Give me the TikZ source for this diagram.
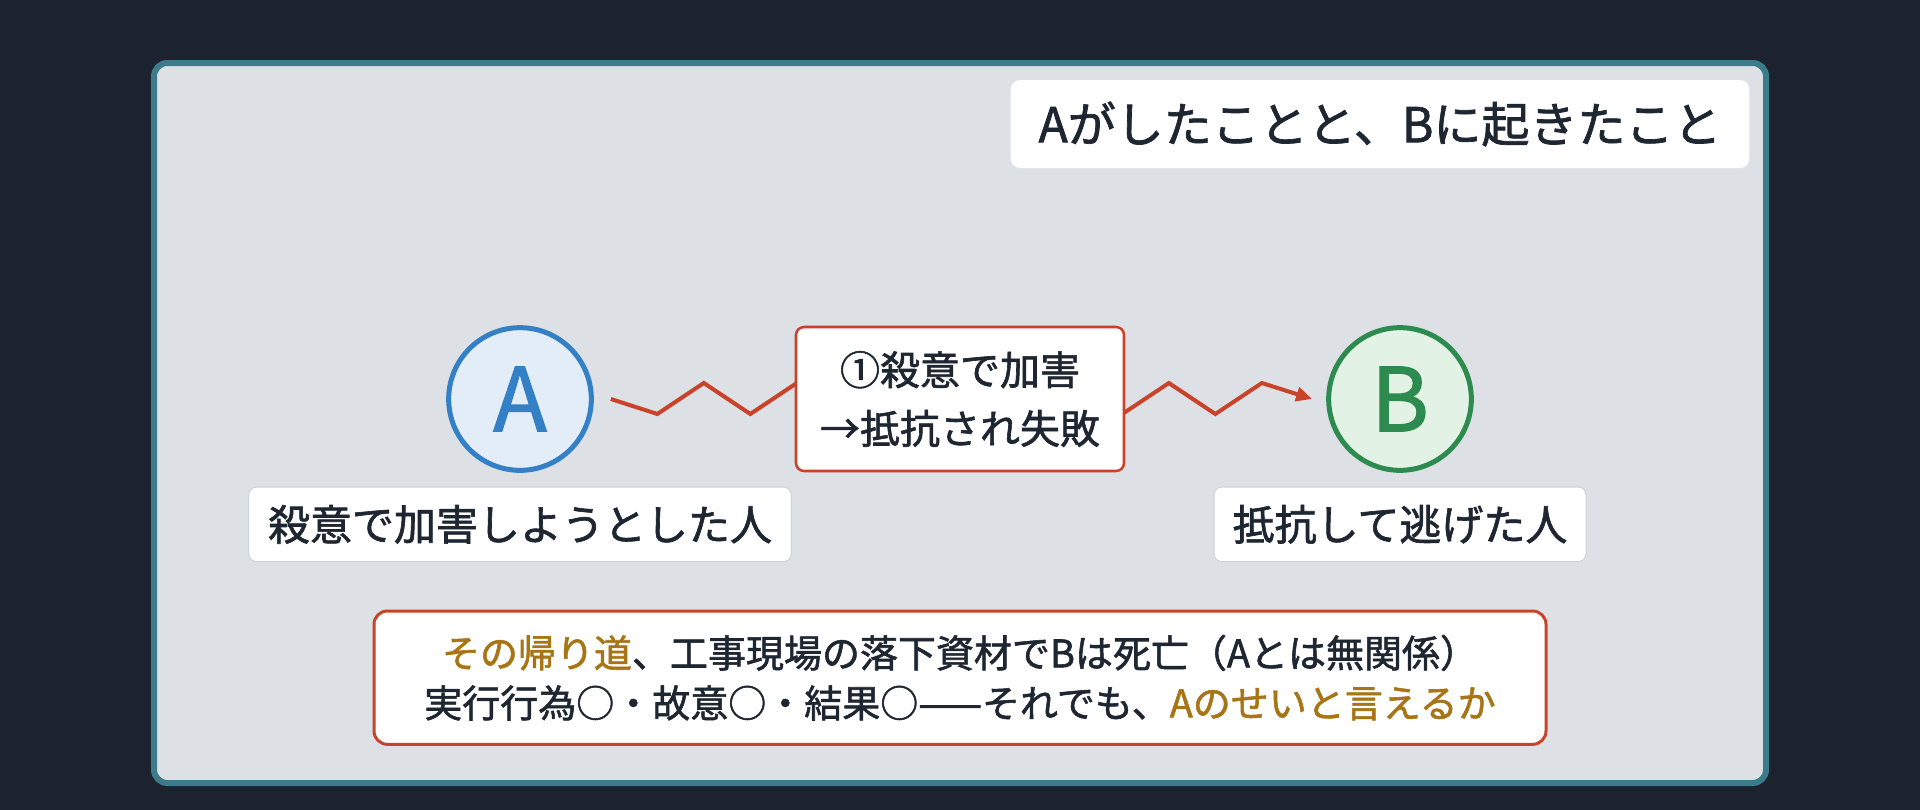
\documentclass[tikz,border=0pt]{standalone}
\usepackage{fontspec}
\setmainfont{Noto Sans CJK JP}[UprightFeatures={FakeBold=1.5}]
\usepackage{tikz}
\usetikzlibrary{shapes.geometric, arrows.meta, positioning}
\definecolor{bgdark}{HTML}{1C232E}
\definecolor{panelfill}{HTML}{DDE0E5}
\definecolor{panelline}{HTML}{3B7B8A}
\definecolor{inkdark}{HTML}{1E2631}
\definecolor{ablue}{HTML}{3380C6}
\definecolor{afill}{HTML}{E3EDF8}
\definecolor{bgreen}{HTML}{2E8B4F}
\definecolor{bfill}{HTML}{E2F3E6}
\definecolor{redline}{HTML}{C9432B}
\definecolor{tagline}{HTML}{CDD3DC}
\definecolor{gold}{HTML}{A77516}
\tikzstyle{panel} = [rounded corners=10pt, line width=4.5pt, draw=panelline, fill=panelfill]
\tikzstyle{titlebox} = [rectangle, rounded corners=7pt, minimum width=554pt, minimum height=66pt, text centered, fill=white, text=inkdark, font=\fontsize{36}{40}\selectfont]
\tikzstyle{person} = [circle, minimum size=107pt, inner sep=0pt, line width=3.75pt, font=\fontsize{66}{66}\selectfont]
\tikzstyle{tag} = [rectangle, rounded corners=6pt, minimum height=56pt, text centered, draw=tagline, line width=0.75pt, fill=white, text=inkdark, font=\fontsize{31.5}{36}\selectfont]
\tikzstyle{act} = [rectangle, rounded corners=6pt, minimum width=246pt, minimum height=108pt, align=center, draw=redline, line width=1.9pt, fill=white, text=inkdark, font=\fontsize{30}{44}\selectfont]
\tikzstyle{note} = [rectangle, rounded corners=10pt, minimum width=879pt, minimum height=100pt, align=center, draw=redline, line width=2.25pt, fill=white, text=inkdark, font=\fontsize{28.5}{37.5}\selectfont]
\tikzstyle{zig} = [line width=3pt, draw=redline, line join=miter, -{Triangle[length=12pt,width=10.5pt]}]

\begin{document}
\begin{tikzpicture}[x=0.75pt, y=-0.75pt]

\fill [bgdark] (0,0) rectangle (1920,810);
\draw [panel] (154,63) rectangle (1766,783);

\node (title) [titlebox] at (1380,124) {Aがしたことと、Bに起きたこと};

\node (pA) [person, draw=ablue, fill=afill, text=ablue] at (520,399) {A};
\node (pB) [person, draw=bgreen, fill=bfill, text=bgreen, right of=pA, node distance=660pt] {B};
\node (tagA) [tag, minimum width=407pt, below of=pA, node distance=94pt] {殺意で加害しようとした人};
\node (tagB) [tag, minimum width=279pt, below of=pB, node distance=94pt] {抵抗して逃げた人};

\draw [zig] ([xshift=12.75pt]pA.east) -- ++(46.5,15)
  \foreach \k in {1,...,6} { -- ++(46.5,-31) -- ++(46.5,31) }
  -- ++(46.5,-31) -- ([xshift=-10.5pt]pB.west);

\node (act1) [act, right of=pA, node distance=330pt] {①殺意で加害\\→抵抗され失敗};
\node (note) [note, below of=act1, node distance=209pt] {{\color{gold}その帰り道}、工事現場の落下資材でBは死亡（Aとは無関係）\\実行行為○・故意○・結果○——それでも、{\color{gold}Aのせいと言えるか}};

\end{tikzpicture}
\end{document}
